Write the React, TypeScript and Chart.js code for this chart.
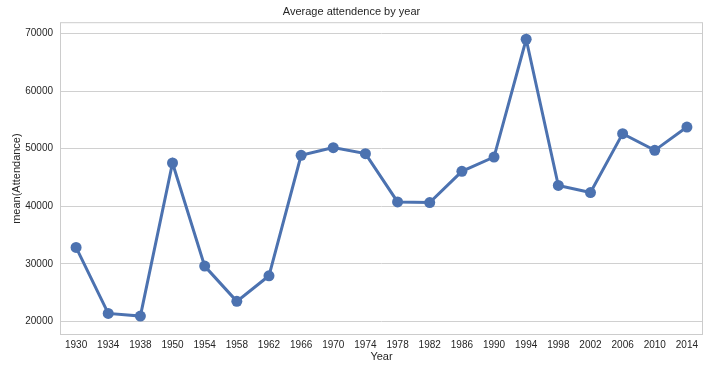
import React, { useEffect, useRef } from "react";
import { Chart, registerables } from "chart.js";

Chart.register(...registerables);

const years = ["1930","1934","1938","1950","1954","1958","1962","1966","1970","1974","1978","1982","1986","1990","1994","1998","2002","2006","2010","2014"];
const meanAttendance = [32830, 21380, 20910, 47500, 29590, 23470, 27910, 48840, 50170, 49130, 40740, 40630, 46060, 48540, 69000, 43600, 42370, 52600, 49700, 53740];
const yTickValues = [20000, 30000, 40000, 50000, 60000, 70000];

const FONT = "'Liberation Sans', Arial, 'DejaVu Sans', sans-serif";
const TEXT = "#262626";
const BLUE = "#4c72b0";

const frame = {
  id: "frame",
  beforeDatasetsDraw(chart: any) {
    const { ctx, chartArea } = chart;
    ctx.save();
    ctx.strokeStyle = "#cccccc";
    ctx.lineWidth = 1;
    ctx.strokeRect(chartArea.left + 0.5, chartArea.top + 0.5, chartArea.right - chartArea.left - 1, chartArea.bottom - chartArea.top - 1);
    ctx.restore();
  },
};

export default function App() {
  const ref = useRef<HTMLCanvasElement | null>(null);
  useEffect(() => {
    if (!ref.current) return;
    const chart = new Chart(ref.current, {
      type: "line",
      data: {
        labels: years,
        datasets: [
          {
            data: meanAttendance,
            borderColor: BLUE,
            backgroundColor: BLUE,
            borderWidth: 3,
            pointRadius: 5.5,
            pointBackgroundColor: BLUE,
            pointBorderWidth: 0,
            tension: 0,
          },
        ],
      },
      options: {
        responsive: false,
        animation: false,
        layout: { padding: { left: 0, right: 17, top: 0, bottom: 0 } },
        plugins: {
          legend: { display: false },
          tooltip: { enabled: false },
          title: {
            display: true,
            text: "Average attendence by year",
            color: TEXT,
            font: { family: FONT, size: 11, weight: "normal" },
            padding: { top: 5, bottom: 4 },
          },
        },
        scales: {
          x: {
            offset: true,
            grid: { display: false, drawTicks: false },
            border: { display: false },
            ticks: { color: TEXT, font: { family: FONT, size: 10 }, padding: 4, maxRotation: 0, autoSkip: false },
            title: { display: true, text: "Year", color: TEXT, font: { family: FONT, size: 11 }, padding: { top: 0, bottom: 6 } },
            afterFit(scale: any) { scale.height = 35; },
          },
          y: {
            min: 17624,
            max: 71960,
            grid: { color: "#d0d0d0", lineWidth: 1, drawTicks: false },
            border: { display: false },
            ticks: { color: TEXT, font: { family: FONT, size: 10 }, padding: 7, callback: (v: any) => String(v) },
            afterBuildTicks(scale: any) { scale.ticks = yTickValues.map((v) => ({ value: v })); },
            title: { display: true, text: "mean(Attendance)", color: TEXT, font: { family: FONT, size: 11 }, padding: { top: 10, bottom: 0 } },
            afterFit(scale: any) { scale.width = 60; },
          },
        },
      },
      plugins: [frame],
    } as any);
    return () => chart.destroy();
  }, []);
  return (
    <div style={{ position: "absolute", left: 0, top: 0, width: 720, height: 370, background: "#fff" }}>
      <canvas ref={ref} width={720} height={370} />
    </div>
  );
}
